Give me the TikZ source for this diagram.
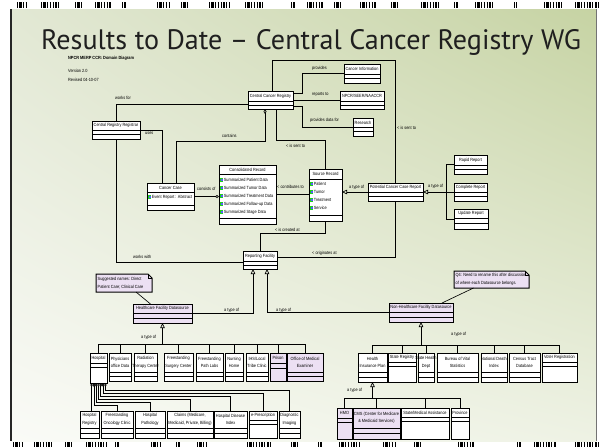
\documentclass[tikz,border=0pt]{standalone}
\usepackage{fontspec}
\setmainfont{Liberation Sans}
\newfontfamily\titlefont{PT Sans}
\newfontfamily\narrowfont[FakeStretch=0.86]{Liberation Sans}
\usetikzlibrary{arrows.meta,calc,shadings}
\definecolor{lav}{RGB}{236,224,243}
\definecolor{attrg}{RGB}{30,210,30}
\definecolor{bgul}{RGB}{226,232,212}
\definecolor{bgur}{RGB}{198,211,163}
\definecolor{bgll}{RGB}{250,251,247}
\definecolor{bglr}{RGB}{238,242,228}
\tikzset{
  cls/.style={draw=black, line width=1pt, inner sep=0pt, outer sep=0pt},
  lbl/.style={font=\narrowfont\fontsize{4.5}{7.5}\selectfont, inner sep=0pt, align=center},
  elbl/.style={font=\narrowfont\fontsize{4.5}{5}\selectfont, inner sep=0pt},
  conn/.style={line width=0.65pt},
  gen/.style={conn, -{Triangle[open, length=5pt, width=4.5pt]}},
  aggs/.style={conn, {Diamond[open, length=5pt, width=3pt]}-},
  agge/.style={conn, -{Diamond[open, length=4pt, width=3pt]}},
  comp/.style={conn, {Diamond[open, length=4pt, width=2.3pt]}-},
  barcode/.style={line width=5.5pt, dash pattern=on 1.3pt off 1pt on 2.2pt off 1.4pt on 0.8pt off 2pt on 1.6pt off 1.2pt},
}
\newcommand\umlc[9][white]{%
  \node[cls, fill=#1, minimum width={(#5-#3)*1pt}, minimum height={(#6-#4)*1pt}, anchor=north west] (#2) at (#3,#4) {};
  \node[lbl] (#2-t) at ({(#3+#5)/2},{(#4+#7)/2}) {#9};
  \draw[line width=0.65pt] (#3,#7) -- (#5,#7) (#3,#8) -- (#5,#8);
}
\newcommand\attr[4]{%
  \fill[attrg] (#2,{#3-2.2}) rectangle ({#2+3.2},{#3+2.2});
  \fill[blue!65] ({#2+0.9},{#3-1}) rectangle ({#2+2.6},{#3+1});
  \node[elbl, anchor=west] (#1) at ({#2+3.6},#3) {#4};
}
\newcommand\umlnote[6]{%
  \node[inner sep=0pt, outer sep=0pt, minimum width={(#4-#2)*1pt}, minimum height={(#5-#3)*1pt}, anchor=north west] (#1) at (#2,#3) {};
  \filldraw[fill=lav, line width=1pt] (#2,#3) -- ({#4-4},#3) -- (#4,{#3+4}) -- (#4,#5) -- (#2,#5) -- cycle;
  \draw[line width=0.5pt] ({#4-4},#3) -- ({#4-4},{#3+4}) -- (#4,{#3+4});
  \node[lbl, align=left, anchor=west] (#1-t) at ({#2+1.5},{(#3+#5)/2}) {#6};
}
\begin{document}
\begin{tikzpicture}[x=1pt, y=-1pt]
\useasboundingbox (0,0) rectangle (600,447);
% ---------- slide background ----------
\fill[white] (0,0) rectangle (600,447);
\shade[upper left=bgul, upper right=bgur, lower left=bgll, lower right=bglr] (11,9) rectangle (596,441);
\draw[line width=2pt, black!85] (11,9) -- (11,441);
\draw[line width=1pt, black!55] (596,9) -- (596,441);
\foreach \a/\b in {17/27,41/61,75/82,95/111,122/126,157/169,181/188,209/230,245/264,291/295,307/324,334/341,360/377,391/397,421/441,454/458,475/494,514/517,544/563,575/600}
  \draw[barcode] (\a,5) -- (\b,5);
\foreach \a/\b in {13/23,34/54,65/73,86/107,115/119,151/161,176/180,197/207,247/272,291/299,318/322,339/360,383/395,414/421,458/475,517/521,534/556,575/600}
  \draw[barcode] (\a,444.5) -- (\b,444.5);
% ---------- title and header ----------
\node[font=\titlefont\fontsize{28.1}{32}\selectfont, text=black!88, anchor=base, inner sep=0pt] (title) at (311,49) {Results to Date – Central Cancer Registry WG};
\node[elbl, font=\narrowfont\fontsize{4.5}{5}\selectfont\bfseries, anchor=west] (hdr) at (68,58) {NPCR MERP CCR: Domain Diagram};
\node[elbl, anchor=west] (ver) at (68,71) {Version 2.0};
\node[elbl, anchor=west] (rev) at (68,80) {Revised 04-10-07};
% ---------- classes ----------
\umlc{CCR}{248}{91}{293}{109}{101}{105}{Central Cancer Registry}
\umlc{CInfo}{344}{64}{380}{83}{74}{78}{Cancer Information}
\umlc{NPCR}{340}{91}{384}{109}{101}{105}{NPCR/SEER/NAACCR}
\umlc{Research}{353}{118}{373}{136}{127}{131}{Research}
\umlc{CRR}{92}{121}{140}{139}{130}{134}{Central Registry Registrar}
\umlc{CCase}{147}{183}{194}{210}{192}{205}{Cancer Case}
\umlc{ConsRec}{219}{165}{276}{224}{174}{218}{Consolidated Record}
\umlc{SrcRec}{309}{169}{342}{221}{179}{215}{Source Record}
\umlc{PCCR}{368}{183}{423}{201}{192}{196}{Potential Cancer Case Report}
\umlc{Rapid}{454}{155}{487}{174}{165}{169}{Rapid Report}
\umlc{Complete}{454}{183}{487}{201}{192}{196}{Complete Report}
\umlc{Update}{454}{209}{488}{229}{218}{223}{Update Report}
\umlc{RF}{243}{251}{277}{269}{261}{265}{Reporting Facility}
\umlc[lav]{HFD}{133}{304}{192}{323}{313}{318}{Healthcare Facility Datasource}
\umlc[lav]{NHFD}{389}{303}{453}{322}{312}{317}{Non-Healthcare Facility Datasource}
% attributes
\attr{a1}{148}{197}{Event Report : Abstract}
\attr{c1}{220}{180}{Summarized Patient Data}
\attr{c2}{220}{188}{Summarized Tumor Data}
\attr{c3}{220}{196}{Summarized Treatment Data}
\attr{c4}{220}{204}{Summarized Follow-up Data}
\attr{c5}{220}{212}{Summarized Stage Data}
\attr{s1}{310}{184}{Patient}
\attr{s2}{310}{192}{Tumor}
\attr{s3}{310}{200}{Treatment}
\attr{s4}{310}{208}{Service}
% notes
\umlnote{NoteA}{96}{274}{152}{292}{Suggested names: Direct\\Patient Care; Clinical Care}
\umlnote{NoteB}{454}{271}{529}{288}{Q4: Need to rename this after discussion\\of where each Datasource belongs.}
% row 1 left
\umlc{Hospital}{90}{353}{107}{383}{363}{367}{Hospital}
\umlc{Phys}{109}{353}{131}{381}{372}{376}{Physicians\\office Data}
\umlc{Rad}{134}{353}{157}{381}{372}{376}{Radiation\\Therapy Center}
\umlc{FSC}{164}{353}{193}{381}{372}{376}{Freestanding\\Surgery Center}
\umlc{FPL}{196}{353}{223}{381}{372}{376}{Freestanding\\Path Labs}
\umlc{Nursing}{225}{353}{243}{381}{372}{376}{Nursing\\Home}
\umlc{IHS}{246}{353}{268}{381}{372}{376}{IHS/Local\\Tribe Clinic}
\umlc[lav]{Prison}{270}{353}{286}{381}{363}{368}{Prison}
\umlc[lav]{OME}{287}{353}{323}{381}{372}{376}{Office of Medical\\Examiner}
% row 1 right
\umlc{HIP}{358}{353}{387}{382}{372}{377}{Health\\Insurance Plan}
\umlc{SReg}{388}{353}{416}{382}{362}{366}{State Registry}
\umlc{SHD}{418}{353}{434}{382}{372}{377}{State Health\\Dept}
\umlc{BVS}{437}{353}{478}{382}{372}{377}{Bureau of Vital\\Statistics}
\umlc{NDI}{481}{353}{507}{382}{372}{377}{National Death\\Index}
\umlc{CTD}{509}{353}{540}{382}{372}{377}{Census Tract\\Database}
\umlc{VR}{542}{353}{577}{382}{362}{366}{Voter Registration}
% row 2 left
\umlc{HReg}{80}{411}{99}{438}{428}{433}{Hospital\\Registry}
\umlc{FOC}{101}{411}{133}{438}{428}{433}{Freestanding\\Oncology Clinic}
\umlc{HPath}{135}{411}{165}{438}{428}{433}{Hospital\\Pathology}
\umlc{Claims}{167}{411}{213}{438}{428}{433}{Claims (Medicare,\\Medicaid, Private, Billing)}
\umlc{HDI}{214}{411}{247}{438}{428}{433}{Hospital Disease\\Index}
\umlc{ePres}{249}{411}{277}{438}{420}{424}{e-Prescription}
\umlc{DI}{279}{411}{300}{438}{428}{433}{Diagnostic\\Imaging}
% row 2 right
\umlc[lav]{HMO}{337}{408}{352}{439}{418}{422}{HMO}
\umlc[lav]{CMS}{353}{408}{400}{439}{428}{433}{CMS (Center for Medicare\\\& Medicaid Services)}
\umlc{SMA}{401}{408}{449}{439}{417}{421}{State/Medical Assistance}
\umlc{Prov}{451}{408}{469}{439}{417}{421}{Province}
% ---------- connectors ----------
\draw[conn] (CRR.north) |- ([yshift=-4pt]CCR.west);
\node[elbl, anchor=west] (l1) at (115,98) {works for};
\draw[conn] (CRR.east) -| ([xshift=-8.5pt]CCase.north);
\node[elbl, anchor=west] (l2) at (145,133) {uses};
\draw[aggs] ([xshift=-5.5pt]CCR.south) -- ++(0,32) -| ([xshift=5.5pt]CCase.north);
\node[elbl, anchor=west] (l3) at (222,136) {contains};
\draw[conn] ([xshift=5.5pt]CCR.south) -- ++(0,31) -| (SrcRec.north);
\node[elbl, anchor=west] (l4) at (286,146) {< is sent to};
\draw[conn] ([yshift=7pt]CCR.east) -- ++(9,0) |- (CInfo.west);
\node[elbl, anchor=west] (l5) at (312,68) {provides};
\draw[conn] (CCR.east) -- (NPCR.west);
\node[elbl, anchor=west] (l6) at (312,95) {reports to};
\draw[conn] ([yshift=-6pt]CCR.east) -- ++(9,0) |- (Research.west);
\node[elbl, anchor=west] (l7) at (310,120) {provides data for};
\draw[conn] ([xshift=1.5pt]CCR.north) -- ++(0,-31) -| (PCCR.north);
\node[elbl, anchor=west] (l8) at (397,128) {< is sent to};
\draw[conn] (PCCR.south) |- ([yshift=3pt]RF.east);
\node[elbl, anchor=west] (l9) at (312,253) {< originates at};
\draw[gen] (PCCR.west) -- (SrcRec.east |- PCCR.west);
\node[elbl, anchor=west] (l10) at (349,187) {a type of};
\draw[conn] (Rapid.west) -- ++(-8,0) |- (Update.west);
\draw[gen] (Complete.west) -- (PCCR.east);
\node[elbl, anchor=west] (l11) at (428,186) {a type of};
\draw[conn] (ConsRec.east) -- (SrcRec.west |- ConsRec.east);
\node[elbl, anchor=west] (l12) at (277,187) {< contributes to};
\draw[agge] (CCase.east) -- (ConsRec.west |- CCase.east);
\node[elbl, anchor=west] (l13) at (197,189) {consists of};
\draw[conn] (SrcRec.south) -- ++(0,12) -| (RF.north);
\node[elbl, anchor=west] (l14) at (275,230) {< is created at};
\draw[conn] (CRR.south) |- ([yshift=-2pt]RF.west);
\node[elbl, anchor=west] (l15) at (133,257) {works with};
\draw[gen] (HFD.east) -| ([xshift=-7pt]RF.south);
\node[elbl, anchor=west] (l16) at (224,310) {a type of};
\draw[gen] (NHFD.west) -| ([xshift=7pt]RF.south);
\node[elbl, anchor=west] (l17) at (276,310) {a type of};
\draw[conn] ([xshift=12pt]NoteA.south) -- ([xshift=-12pt]HFD.north);
\draw[conn] ([xshift=-18pt]NoteB.south) -- ([xshift=21pt]NHFD.north);
% generalisation buses
\coordinate (busL) at ([yshift=-21pt]HFD.south);
\draw[gen] (busL) -- (HFD.south);
\foreach \c in {Hospital,Phys,Rad,FSC,FPL,Nursing,IHS,Prison,OME}
  \draw[conn] (\c.north) |- (busL);
\node[elbl, anchor=west] (l18) at (141,337) {a type of};
\coordinate (busR) at ([yshift=-23pt]NHFD.south);
\draw[gen] (busR) -- (NHFD.south);
\foreach \c in {HIP,SReg,SHD,BVS,NDI,CTD,VR}
  \draw[conn] (\c.north) |- (busR);
\node[elbl, anchor=west] (l19) at (451,334) {a type of};
\coordinate (busH) at ([yshift=-16pt]HIP.south);
\draw[gen] (busH) -- (HIP.south);
\foreach \c in {HMO,CMS,SMA,Prov}
  \draw[conn] (\c.north) |- (busH);
\node[elbl, anchor=west] (l20) at (347,390) {a type of};
% hospital compositions
\foreach \i/\dx in {1/-6.9,2/-4.6,3/-2.3,4/0,5/2.3,6/4.6,7/6.9}
  \coordinate (d\i) at ([xshift=\dx pt]Hospital.south);
\draw[comp] (d1) -- (d1 |- HReg.north);
\draw[comp] (d2) -- ++(0,22) -| (FOC.north);
\draw[comp] (d3) -- ++(0,19) -| (HPath.north);
\draw[comp] (d4) -- ++(0,16) -| (Claims.north);
\draw[comp] (d5) -- ++(0,13) -| (HDI.north);
\draw[comp] (d6) -- ++(0,10) -| (ePres.north);
\draw[comp] (d7) -- ++(0,7) -| (DI.north);
\end{tikzpicture}
\end{document}
